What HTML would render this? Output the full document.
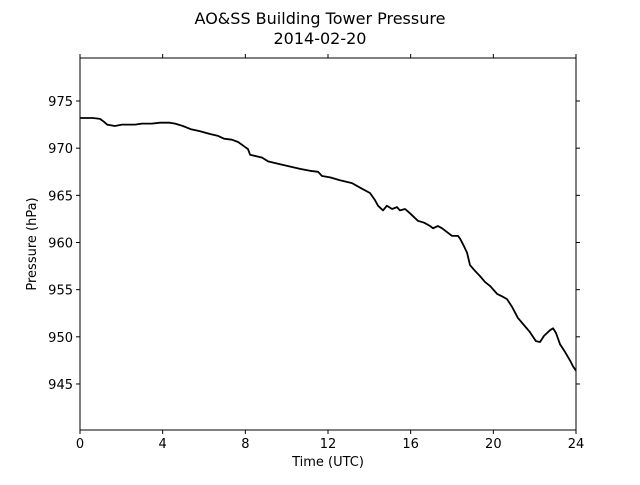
<!DOCTYPE html>
<html><head><meta charset="utf-8"><style>
body{margin:0;background:#fff}
svg{font-family:"DejaVu Sans","Liberation Sans",sans-serif}
</style></head><body>
<svg id="chart" width="640" height="480">
<text x="320" y="24" text-anchor="middle" font-size="16">AO&amp;SS Building Tower Pressure</text>
<text x="320" y="44" text-anchor="middle" font-size="16">2014-02-20</text>
<rect x="80" y="58" width="496" height="372" fill="none" stroke="#000" stroke-width="1"/>
<g id="xt"></g>
<g id="yt"></g>
<text x="328" y="466" text-anchor="middle" font-size="13">Time (UTC)</text>
<text transform="translate(36,244) rotate(-90)" text-anchor="middle" font-size="13">Pressure (hPa)</text>
<path id="line" fill="none" stroke="#000" stroke-width="1.8" stroke-linejoin="round"/>
</svg>
<script>
const hours=[0,0.63,0.97,1.16,1.31,1.69,2.03,2.66,3.0,3.48,3.87,4.35,4.6,4.98,5.37,5.81,6.29,6.68,6.97,7.35,7.65,7.94,8.13,8.23,8.81,9.1,9.68,10.26,10.65,11.13,11.52,11.71,12.1,12.58,13.16,13.64,14.03,14.27,14.42,14.66,14.85,15.1,15.34,15.48,15.73,15.97,16.35,16.65,16.94,17.08,17.32,17.52,17.76,18.0,18.29,18.39,18.58,18.73,18.87,19.11,19.35,19.6,19.84,20.18,20.42,20.66,20.9,21.19,21.48,21.77,22.06,22.26,22.45,22.74,22.89,23.03,23.23,23.47,23.71,23.85,24];
const pressure=[973.2,973.2,973.1,972.8,972.5,972.35,972.5,972.5,972.6,972.6,972.7,972.7,972.6,972.35,972.0,971.8,971.5,971.3,971.0,970.9,970.65,970.2,969.9,969.3,969.0,968.6,968.3,968.0,967.8,967.6,967.5,967.05,966.9,966.6,966.3,965.7,965.25,964.5,963.9,963.4,963.9,963.55,963.75,963.4,963.55,963.1,962.3,962.1,961.75,961.5,961.75,961.5,961.1,960.7,960.7,960.4,959.6,958.9,957.6,957.0,956.45,955.8,955.4,954.55,954.3,954.0,953.2,952.0,951.25,950.5,949.55,949.45,950.1,950.7,950.9,950.4,949.2,948.4,947.5,946.9,946.4];
const xTicks=[0,4,8,12,16,20,24];
const yTicks=[945,950,955,960,965,970,975];
const X0=80,X1=576,Y0=430,Y1=58,XMIN=0,XMAX=24,YMIN=940.12,YMAX=979.56;
const sx=v=>X0+(v-XMIN)/(XMAX-XMIN)*(X1-X0);
const sy=v=>Y0-(v-YMIN)/(YMAX-YMIN)*(Y0-Y1);
const NS="http://www.w3.org/2000/svg";
function mk(t,a,p){const e=document.createElementNS(NS,t);for(const k in a)e.setAttribute(k,a[k]);p.appendChild(e);return e;}
const xt=document.getElementById('xt'),yt=document.getElementById('yt');
xTicks.forEach(v=>{const x=sx(v);
 let t=mk('line',{x1:x,x2:x,y1:Y0,y2:Y0+4,stroke:'#000'},xt);
 
 
 let t2=mk('line',{x1:x,x2:x,y1:Y1,y2:Y1-4,stroke:'#000'},xt);
 
 
 let l=mk('text',{x:x,y:Y0+18,'text-anchor':'middle','font-size':13},xt);l.textContent=v;
 
 
});
yTicks.forEach(v=>{const y=sy(v);
 let t=mk('line',{x1:X0-4,x2:X0,y1:y,y2:y,stroke:'#000'},yt);
 
 
 let t2=mk('line',{x1:X1,x2:X1+4,y1:y,y2:y,stroke:'#000'},yt);
 
 
 let l=mk('text',{x:X0-7,y:y+5,'text-anchor':'end','font-size':13},yt);l.textContent=v;
 
 
});
document.getElementById('line').setAttribute('d',hours.map((h,i)=>(i?'L':'M')+sx(h).toFixed(1)+' '+sy(pressure[i]).toFixed(1)).join(' '));
</script>
</body></html>
